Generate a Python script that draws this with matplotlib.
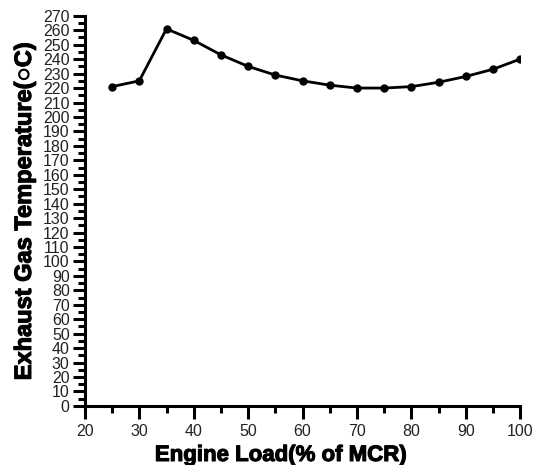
import matplotlib
matplotlib.use('Agg')
import matplotlib.pyplot as plt
import matplotlib.patheffects as pe
import numpy as np

# engine load (% of MCR) and exhaust gas temperature (C)
load = [25, 30, 35, 40, 45, 50, 55, 60, 65, 70, 75, 80, 85, 90, 95, 100]
temp = [221, 225, 261, 253, 243, 235, 229, 225, 222, 220, 220, 221, 224, 228, 233, 240]

plt.rcParams['font.family'] = ['Liberation Sans', 'DejaVu Sans']

fig = plt.figure(figsize=(5.34, 4.65), dpi=100)
ax = fig.add_axes([0.159, 0.127, 0.815, 0.839])

ax.plot(load, temp, color='black', lw=2, marker='o', ms=5)

ax.set_xlim(20, 100)
ax.set_ylim(0, 270)
ax.set_xticks(np.arange(20, 101, 10))
ax.set_xticks(np.arange(25, 100, 10), minor=True)
ax.set_yticks(np.arange(0, 271, 10))
ax.set_yticks(np.arange(5, 270, 10), minor=True)

for s in ['top', 'right']:
    ax.spines[s].set_visible(False)
for s in ['left', 'bottom']:
    ax.spines[s].set_linewidth(2.2)

ax.tick_params(which='major', direction='out', length=9, width=2.2, labelsize=11.5,
               labelcolor='#222222', pad=2)
ax.tick_params(axis='x', which='major', pad=4)
ax.tick_params(which='minor', direction='out', length=5, width=2.2)

bold = [pe.withStroke(linewidth=0.8, foreground='black')]
ax.set_xlabel('Engine Load(% of MCR)', fontsize=16, fontweight='bold', labelpad=4,
              path_effects=bold)
ax.xaxis.set_label_coords(0.45, -0.1)
ax.set_ylabel('Exhaust Gas Temperature(\u25cbC)', fontsize=17, fontweight='bold', labelpad=5,
              path_effects=bold)

fig.savefig('out.png', dpi=100)
